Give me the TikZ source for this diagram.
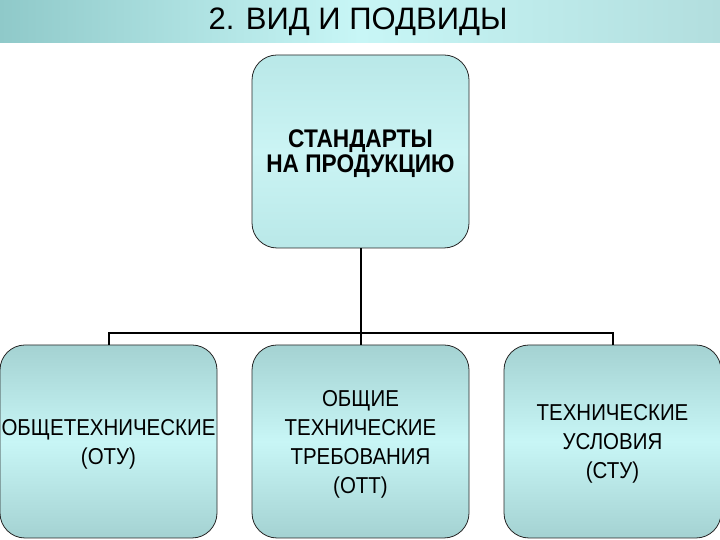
\documentclass[tikz,border=0pt]{standalone}
\usepackage{fontspec}
\setmainfont{Liberation Sans}
\newfontfamily\slimsans[FakeStretch=0.89]{Liberation Sans}
\definecolor{barteal}{HTML}{8FC9C9}
\definecolor{barlight}{HTML}{C8F6F6}
\definecolor{barright}{HTML}{B2DEDE}
\definecolor{boxlight}{HTML}{C8F6F6}
\definecolor{boxdark}{HTML}{A4D2D2}
\definecolor{toplight}{HTML}{CBF4F4}
\definecolor{topdark}{HTML}{B9E8E8}
\tikzset{
	kind/.style={rounded corners=25pt, draw=black!85, line width=0.8pt, minimum width=217pt, minimum height=193pt, align=center, inner sep=0pt},
	mainkind/.style={kind, top color=topdark, bottom color=topdark, middle color=toplight, text depth=-4pt, font=\slimsans\fontsize{25.5}{25}\selectfont\bfseries},
	subkind/.style={kind, top color=boxdark, bottom color=boxdark, middle color=boxlight, text depth=-5pt, font=\slimsans\fontsize{23}{29}\selectfont}
}

\begin{document}
\begin{tikzpicture}[x=1pt, y=1pt, grow=down, level distance=290pt, sibling distance=252pt,
	edge from parent/.style={draw=black, line width=2pt},
	edge from parent path={(\tikzparentnode.south) -- ++(0,-85) -| (\tikzchildnode.north)}]
			\useasboundingbox (0,0) rectangle (720,540);
			\shade[left color=barteal, right color=barright, middle color=barlight] (0,497) rectangle (720,540);
			\node[font=\fontsize{31}{34}\selectfont] (title) at (358,518) {2. ВИД И ПОДВИДЫ};
			\node[mainkind] (std) at (360.5,388.5) {СТАНДАРТЫ\\НА ПРОДУКЦИЮ}
			child {
				node[subkind] (otu) {ОБЩЕТЕХНИЧЕСКИЕ\\(ОТУ)}
			}
			child {
				node[subkind] (ott) {ОБЩИЕ\\ТЕХНИЧЕСКИЕ\\ТРЕБОВАНИЯ\\(ОТТ)}
			}
			child {
				node[subkind] (stu) {ТЕХНИЧЕСКИЕ\\УСЛОВИЯ\\(СТУ)}
			};
		\end{tikzpicture}
\end{document}
